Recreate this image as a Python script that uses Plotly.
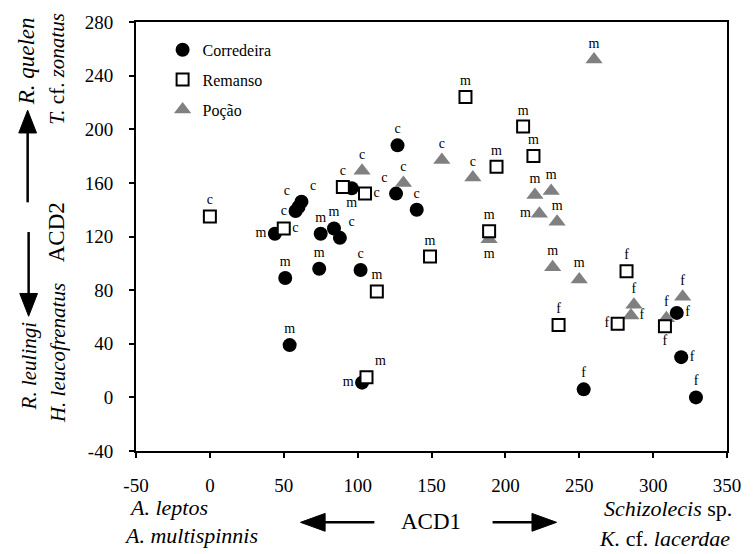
import plotly.graph_objects as go

# ---------------- data ----------------
cor_x = [44, 51, 54, 58, 60, 62, 74, 75, 84, 88, 96, 102, 103, 127, 126, 140, 253, 316, 319, 329]
cor_y = [122, 89, 39, 139, 142, 146, 96, 122, 126, 119, 156, 95, 11, 188, 152, 140, 6, 63, 30, 0]
cor_lab = ["m", "m", "m", "c", "c", "c", "m", "m", "m", "c", "m", "c", "m", "c", "c", "c", "f", "f", "f", "f"]

rem_x = [0, 50, 90, 105, 113, 106, 149, 173, 194, 212, 219, 189, 236, 282, 276, 308]
rem_y = [135, 126, 157, 152, 79, 15, 105, 224, 172, 202, 180, 124, 54, 94, 55, 53]
rem_lab = ["c", "c", "c", "c", "m", "m", "m", "m", "m", "m", "m", "m", "f", "f", "f", "f"]

poc_x = [103, 131, 157, 178, 189, 220, 231, 223, 235, 232, 250, 260, 287, 285, 309, 320]
poc_y = [169, 160, 177, 164, 118, 151, 154, 137, 131, 97, 88, 252, 69, 61, 59, 75]
poc_lab = ["c", "c", "c", "c", "m", "m", "m", "m", "m", "m", "m", "m", "f", "f", "f", "f"]

x_ticks = [-50, 0, 50, 100, 150, 200, 250, 300, 350]
x_ticktext = ["-50", "0", "50", "100", "150", "200", "250", "300", "350"]
y_ticks = [-40, 0, 40, 80, 120, 160, 200, 240, 280]
y_ticktext = ["-40", "0", "40", "80", "120", "160", "200", "240", "280"]

# ---------------- label placement (style) ----------------
cor_pos = ["middle left", "top center", "top center", "middle left", "top left", "top right",
           "top center", "top center", "top center", "top right", "bottom center", "top center",
           "middle left", "top center", "top left", "top center", "top center", "middle right",
           "middle right", "top center"]
rem_pos = ["top center", "middle right", "top center", "middle right", "top center", "top right",
           "top center", "top center", "top center", "top center", "top center", "top center",
           "top center", "top center", "middle left", "bottom center"]
poc_pos = ["top center", "top center", "top center", "top center", "bottom center", "top center",
           "top center", "middle left", "top center", "top center", "top center", "top center",
           "top center", "middle right", "top center", "top center"]

SERIF = "Liberation Serif"
GRAY = "#808080"

W, H = 753, 554
L, R, T, B = 136, 736, 18, 451


def px(x):
    return (x - L) / (R - L)


def py(y):
    return (B - y) / (B - T)


fig = go.Figure()

fig.add_trace(go.Scatter(x=cor_x, y=cor_y, mode="markers", name="Corredeira",
                         legendgroup="a", legendrank=1,
                         marker=dict(symbol="circle", size=14, color="black")))
fig.add_trace(go.Scatter(x=poc_x, y=poc_y, mode="markers", name="Poção",
                         legendgroup="c", legendrank=3,
                         marker=dict(symbol="triangle-up", size=15, color=GRAY)))
fig.add_trace(go.Scatter(x=rem_x, y=rem_y, mode="markers", name="Remanso",
                         legendgroup="b", legendrank=2,
                         marker=dict(symbol="square", size=12, color="white",
                                     line=dict(color="black", width=2))))

for xs, ys, labs, pos in [(cor_x, cor_y, cor_lab, cor_pos),
                          (rem_x, rem_y, rem_lab, rem_pos),
                          (poc_x, poc_y, poc_lab, poc_pos)]:
    fig.add_trace(go.Scatter(x=xs, y=ys, mode="markers+text", text=labs, textposition=pos,
                             showlegend=False, hoverinfo="skip",
                             marker=dict(size=12, color="rgba(0,0,0,0)"),
                             textfont=dict(family=SERIF, size=14, color="black")))

ann = []


def add_text(text, x, y, size=22, xanchor="center", angle=0):
    ann.append(dict(text=text, x=px(x), y=py(y), xref="paper", yref="paper",
                    showarrow=False, xanchor=xanchor, yanchor="middle", textangle=angle,
                    borderpad=0,
                    font=dict(family=SERIF, size=size, color="black")))


add_text("<i>A. leptos</i>", 128, 508, size=22, xanchor="left")
add_text("<i>A. multispinnis</i>", 123, 536, size=22, xanchor="left")
add_text("ACD1", 435, 522, size=23)
add_text("<i>Schizolecis</i> sp.", 742, 509, size=22, xanchor="right")
add_text("<i>K.</i> cf. <i>lacerdae</i>", 740, 539, size=22, xanchor="right")

add_text("<i>R. quelen</i>", 25, 58, size=23, angle=-90)
add_text("<i>R. leulingi</i>", 27, 365, size=21, angle=-90)
add_text("<i>T.</i> cf. <i>zonatus</i>", 55, 65, size=21, angle=-90)
add_text("ACD2", 55, 230, size=23, angle=-90)
add_text("<i>H. leucofrenatus</i>", 57, 352, size=21, angle=-90)

shapes = []


def line(x0, y0, x1, y1):
    shapes.append(dict(type="line", xref="paper", yref="paper", x0=px(x0), y0=py(y0),
                       x1=px(x1), y1=py(y1), line=dict(color="black", width=2.5)))


def tri(pts):
    d = "M " + " L ".join(f"{px(a):.5f},{py(b):.5f}" for a, b in pts) + " Z"
    shapes.append(dict(type="path", xref="paper", yref="paper", path=d,
                       fillcolor="black", line=dict(color="black", width=1)))


# bottom arrows
line(326, 523, 378, 523)
tri([(303, 523), (328, 514), (328, 532)])
line(498, 523, 540, 523)
tri([(563, 523), (538, 514), (538, 532)])
# left arrows
line(26, 128, 26, 200)
tri([(26, 107), (17, 130), (35, 130)])
line(27, 230, 27, 295)
tri([(27, 315), (18, 292), (36, 292)])

axis_common = dict(showline=True, linecolor="black", linewidth=2, mirror=True,
                   ticks="outside", ticklen=5, tickwidth=1.5, tickcolor="black",
                   showgrid=False, zeroline=False,
                   tickfont=dict(family=SERIF, size=19, color="black"))

fig.update_layout(
    width=W, height=H,
    margin=dict(l=L, r=W - R, t=T, b=H - B, pad=0),
    paper_bgcolor="white", plot_bgcolor="white",
    font=dict(family=SERIF, color="black"),
    xaxis=dict(range=[-50, 350], tickvals=x_ticks, ticktext=x_ticktext,
               ticklabelstandoff=11, **axis_common),
    yaxis=dict(range=[-40, 280], tickvals=y_ticks, ticktext=y_ticktext,
               ticklabelstandoff=12, **axis_common),
    showlegend=True,
    legend=dict(x=px(163), y=py(29), xanchor="left", yanchor="top",
                bgcolor="rgba(0,0,0,0)", borderwidth=0, tracegroupgap=6,
                font=dict(family=SERIF, size=16, color="black")),
    annotations=ann,
    shapes=shapes,
)

fig.write_html("out.html")
